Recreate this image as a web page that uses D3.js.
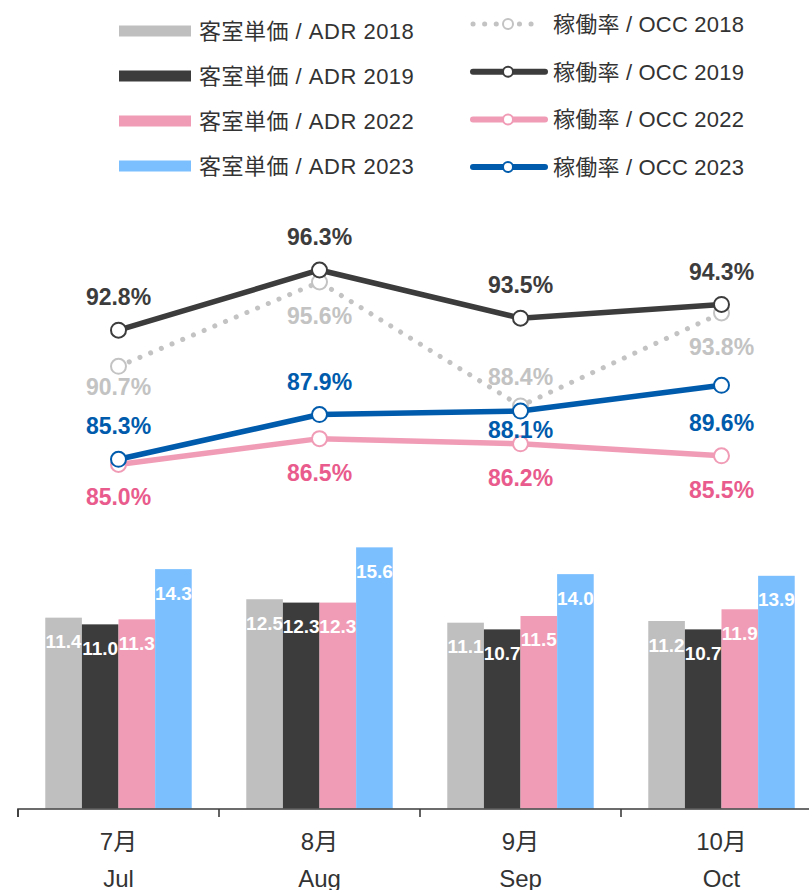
<!DOCTYPE html>
<html>
<head>
<meta charset="utf-8">
<script src="https://cdn.jsdelivr.net/npm/d3@7"></script>
<style>
  body { margin: 0; background: #fff; }
  svg { display: block; font-family: "Liberation Sans", Arial, "Noto Sans CJK JP", sans-serif; }
</style>
</head>
<body>
<svg id="chart" width="809" height="890"></svg>
<script>
// months on the x axis
let monthsJa = ['7月', '8月', '9月', '10月']
let monthsEn = ['Jul', 'Aug', 'Sep', 'Oct']

// ADR (bars)
let adrYears = ['2018', '2019', '2022', '2023']
let adr2018 = [11.4, 12.5, 11.1, 11.2]
let adr2019 = [11.0, 12.3, 10.7, 10.7]
let adr2022 = [11.3, 12.3, 11.5, 11.9]
let adr2023 = [14.3, 15.6, 14.0, 13.9]

// OCC % (lines)
let occ2018 = [90.7, 95.6, 88.4, 93.8]
let occ2019 = [92.8, 96.3, 93.5, 94.3]
let occ2022 = [85.0, 86.5, 86.2, 85.5]
let occ2023 = [85.3, 87.9, 88.1, 89.6]

let barColor = { '2018': '#bfbfbf', '2019': '#3c3c3c', '2022': '#f19cb6', '2023': '#7bbfff' }
let lineColor = { '2018': '#c3c3c3', '2019': '#3c3c3c', '2022': '#f19cb6', '2023': '#005bac' }
let labelColor = { '2018': '#c3c3c3', '2019': '#3c3c3c', '2022': '#e95b8c', '2023': '#005bac' }

// where each line's value label sits, relative to its point
let labelDy = {
  '2018': [21, 34, -29, 34],
  '2019': [-33, -33, -33, -32],
  '2022': [33, 34, 34, 34],
  '2023': [-33, -33, 19, 38]
}

let svg = d3.select('#chart')
let textCol = '#333'

let x = d3.scaleBand().domain(monthsEn).range([18, 822]).padding(0)
let xSub = d3.scaleBand().domain(adrYears).range([0, x.bandwidth()]).paddingInner(0).paddingOuter(0.745)

let yBar = d3.scaleLinear().domain([0, 20]).range([808.5, 473.7])
let yLine = d3.scaleLinear().domain([80, 100]).range([550.5, 206.3])

let adrSeries = [adr2018, adr2019, adr2022, adr2023]
let occSeries = { '2018': occ2018, '2019': occ2019, '2022': occ2022, '2023': occ2023 }

/*** bars ***/
let barG = svg.append('g').attr('id', 'bars')
adrYears.forEach((yr, i) => {
  let g = barG.append('g').attr('class', 'adr-' + yr)
  g.selectAll('rect')
    .data(adrSeries[i])
    .enter()
    .append('rect')
    .attr('x', (d, j) => x(monthsEn[j]) + xSub(yr))
    .attr('y', d => yBar(d))
    .attr('width', xSub.bandwidth())
    .attr('height', d => yBar(0) - yBar(d))
    .attr('fill', barColor[yr])
  g.selectAll('text')
    .data(adrSeries[i])
    .enter()
    .append('text')
    .attr('x', (d, j) => x(monthsEn[j]) + xSub(yr) + xSub.bandwidth() / 2)
    .attr('y', d => yBar(d) + 30.5)
    .attr('text-anchor', 'middle')
    .attr('font-size', 19)
    .attr('font-weight', 'bold')
    .attr('fill', '#fff')
    .text(d => d.toFixed(1))
})

/*** axis ***/
let axis = d3.axisBottom(x).tickSize(8).tickFormat('')
let axisG = svg.append('g').attr('transform', 'translate(0,809)').call(axis)
axisG.select('.domain').attr('stroke', '#3c3c3c').attr('stroke-width', 1.6)
  .attr('d', 'M18,8V0H822')
axisG.selectAll('.tick').remove()
// ticks sit on band edges
let edges = monthsEn.map(m => x(m)).concat([x.range()[1]])
axisG.selectAll('.edge')
  .data(edges)
  .enter()
  .append('line')
  .attr('class', 'edge')
  .attr('x1', d => d).attr('x2', d => d)
  .attr('y1', 0).attr('y2', 8)
  .attr('stroke', '#3c3c3c')
  .attr('stroke-width', 1.6)

svg.append('g').selectAll('text')
  .data(monthsJa)
  .enter()
  .append('text')
  .attr('x', (d, i) => x(monthsEn[i]) + x.bandwidth() / 2)
  .attr('y', 850)
  .attr('text-anchor', 'middle')
  .attr('font-size', 24)
  .attr('fill', textCol)
  .text(d => d)

svg.append('g').selectAll('text')
  .data(monthsEn)
  .enter()
  .append('text')
  .attr('x', d => x(d) + x.bandwidth() / 2)
  .attr('y', 887)
  .attr('text-anchor', 'middle')
  .attr('font-size', 24)
  .attr('fill', textCol)
  .text(d => d)

/*** lines ***/
let line = d3.line()
  .x((d, i) => x(monthsEn[i]) + x.bandwidth() / 2)
  .y(d => yLine(d))

let lineG = svg.append('g').attr('id', 'lines')
let drawOrder = ['2018', '2022', '2023', '2019']

drawOrder.forEach(yr => {
  let vals = occSeries[yr]
  let g = lineG.append('g').attr('class', 'occ-' + yr)
  let p = g.append('path')
    .datum(vals)
    .attr('d', line)
    .attr('fill', 'none')
    .attr('stroke', lineColor[yr])
    .attr('stroke-linejoin', 'round')
  if (yr === '2018') {
    p.attr('stroke-width', 5).attr('stroke-linecap', 'round').attr('stroke-dasharray', '0.1 11.5')
  } else {
    p.attr('stroke-width', 5.5)
  }
  g.selectAll('circle')
    .data(vals)
    .enter()
    .append('circle')
    .attr('cx', (d, i) => x(monthsEn[i]) + x.bandwidth() / 2)
    .attr('cy', d => yLine(d))
    .attr('r', 7.5)
    .attr('fill', '#fff')
    .attr('stroke', lineColor[yr])
    .attr('stroke-width', 2)
})

// value labels on top of everything
drawOrder.forEach(yr => {
  let vals = occSeries[yr]
  lineG.append('g').selectAll('text')
    .data(vals)
    .enter()
    .append('text')
    .attr('x', (d, i) => x(monthsEn[i]) + x.bandwidth() / 2)
    .attr('y', (d, i) => yLine(d) + labelDy[yr][i] + 8)
    .attr('text-anchor', 'middle')
    .attr('font-size', 23)
    .attr('font-weight', 'bold')
    .attr('fill', labelColor[yr])
    .text(d => d.toFixed(1) + '%')
})

/*** legend ***/
let legend = svg.append('g').attr('id', 'legend')
adrYears.forEach((yr, i) => {
  let cy = 31 + i * 45
  legend.append('rect')
    .attr('x', 119).attr('y', cy - 5.5)
    .attr('width', 72).attr('height', 11)
    .attr('fill', barColor[yr])
  legend.append('text')
    .attr('x', 199).attr('y', cy + 8)
    .attr('font-size', 22)
    .attr('letter-spacing', 0.5)
    .attr('fill', textCol)
    .text('客室単価 / ADR ' + yr)
})

adrYears.forEach((yr, i) => {
  let cy = 24 + i * 47.7
  let lg = legend.append('g')
  if (yr === '2018') {
    lg.append('line')
      .attr('x1', 473).attr('x2', 540).attr('y1', cy).attr('y2', cy)
      .attr('stroke', lineColor[yr]).attr('stroke-width', 5)
      .attr('stroke-linecap', 'round').attr('stroke-dasharray', '0.1 11.5')
  } else {
    lg.append('line')
      .attr('x1', 473).attr('x2', 545).attr('y1', cy).attr('y2', cy)
      .attr('stroke', lineColor[yr]).attr('stroke-width', 6)
      .attr('stroke-linecap', 'round')
  }
  lg.append('circle')
    .attr('cx', 508).attr('cy', cy).attr('r', 5)
    .attr('fill', '#fff')
    .attr('stroke', lineColor[yr]).attr('stroke-width', 2)
  legend.append('text')
    .attr('x', 553).attr('y', cy + 8)
    .attr('font-size', 22)
    .attr('letter-spacing', 0.2)
    .attr('fill', textCol)
    .text('稼働率 / OCC ' + yr)
})
</script>
</body>
</html>
